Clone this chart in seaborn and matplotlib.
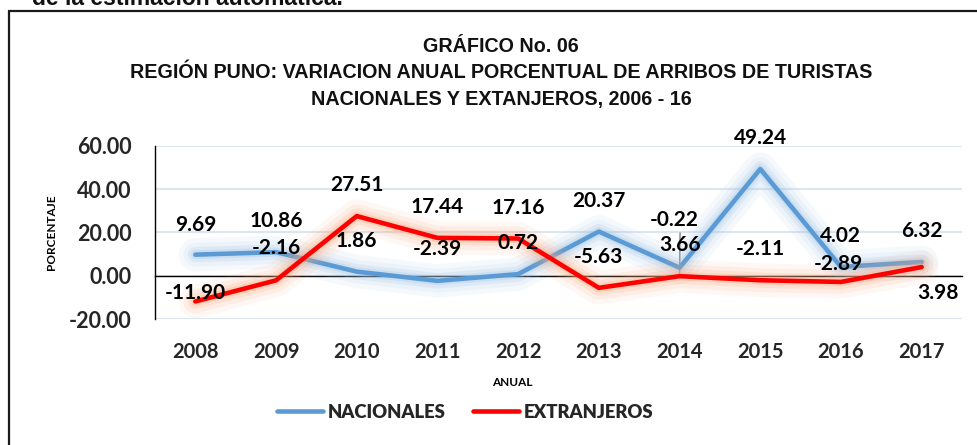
import numpy as np
import pandas as pd
import seaborn as sns
import matplotlib
matplotlib.use("Agg")
import matplotlib.pyplot as plt
from matplotlib import font_manager
from matplotlib.font_manager import FontProperties
from matplotlib.lines import Line2D
import matplotlib.patheffects as pe

# ---------------- data ----------------
years = [2008, 2009, 2010, 2011, 2012, 2013, 2014, 2015, 2016, 2017]
nacionales = [9.69, 10.86, 1.86, -2.39, 0.72, 20.37, 3.66, 49.24, 4.02, 6.32]
extranjeros = [-11.90, -2.16, 27.51, 17.44, 17.16, -5.63, -0.22, -2.11, -2.89, 3.98]
series_names = ["NACIONALES", "EXTRANJEROS"]
yticks = [-20, 0, 20, 40, 60]
title_lines = ["GRÁFICO No. 06",
               "REGIÓN PUNO: VARIACION ANUAL PORCENTUAL DE ARRIBOS DE TURISTAS",
               "NACIONALES Y EXTANJEROS, 2006 - 16"]
top_text = "de la estimación automática."

# label offsets (pixels) relative to each point
nac_off = [(0, -30), (0, -31), (0, -31), (0, -32), (0, -31), (0, -31), (1, -23), (0, -31), (0, -31), (0, -31)]
ext_off = [(0, -8), (0, -32), (0, -31), (0, -31), (0, -31), (0, -31), (-5, -56), (0, -31), (-3, -18), (16, 26)]

df = pd.DataFrame({
    "year": years * 2,
    "value": nacionales + extranjeros,
    "serie": [series_names[0]] * len(years) + [series_names[1]] * len(years),
})

BLUE = "#5B9BD5"
RED = "#FF0000"
palette = {series_names[0]: BLUE, series_names[1]: RED}
glow = {series_names[0]: "#9DC3E6", series_names[1]: "#F8A77C"}

sns.set_theme(style="white")
names = {f.name for f in font_manager.fontManager.ttflist}
narrow = "Liberation Sans Narrow" if "Liberation Sans Narrow" in names else "Liberation Sans"
body = "Lato" if "Lato" in names else "DejaVu Sans"
plt.rcParams["font.family"] = [body, "DejaVu Sans"]

W, H, DPI = 977, 445, 100
fig = plt.figure(figsize=(W / DPI, H / DPI), dpi=DPI)
fig.patch.set_facecolor("white")

def fx(px):
    return px / W

def fy(py):
    return 1 - py / H

ax_l, ax_r, ax_t, ax_b = 155, 962, 145.7, 319
ax = fig.add_axes([fx(ax_l), fy(ax_b), fx(ax_r - ax_l), (ax_b - ax_t) / H])

sns.lineplot(data=df, x="year", y="value", hue="serie", palette=palette,
             hue_order=series_names, ax=ax, linewidth=3.3, legend=True, zorder=5)

for line, name in zip(ax.get_lines()[:2], series_names):
    g = glow[name]
    line.set_path_effects([
        pe.Stroke(linewidth=24, foreground=g, alpha=0.09),
        pe.Stroke(linewidth=17, foreground=g, alpha=0.12),
        pe.Stroke(linewidth=11, foreground=g, alpha=0.18),
        pe.Stroke(linewidth=6.5, foreground=g, alpha=0.25),
        pe.Normal(),
    ])
    line.set_solid_capstyle("round")

for s in ["top", "right"]:
    ax.spines[s].set_visible(False)
ax.spines["left"].set_color("black")
ax.spines["left"].set_linewidth(1.0)
ax.spines["bottom"].set_position(("data", 0))
ax.spines["bottom"].set_color("black")
ax.spines["bottom"].set_linewidth(1.0)

ax.set_xlim(years[0] - 0.5, years[-1] + 0.5)
ax.set_ylim(yticks[0], yticks[-1])
ax.set_yticks(yticks)
ax.set_yticklabels([f"{v:.2f}" for v in yticks], fontsize=15.5, fontweight="bold")
ax.set_xticks(years)
ax.set_xticklabels([str(y) for y in years], fontsize=14.5, fontweight="bold")
ax.set_xticks([y + 0.5 for y in years], minor=True)

ax.tick_params(axis="y", which="major", direction="out", length=5, width=1, color="black", pad=12)
ax.tick_params(axis="x", which="major", length=0, pad=48)
ax.tick_params(axis="x", which="minor", direction="inout", length=9.5, width=1, color="#333333")

ax.yaxis.grid(True, color="#DCE6F2", linewidth=1.5)
ax.xaxis.grid(False)
ax.set_axisbelow(True)
ax.set_xlabel("")
ax.set_ylabel("")

# data labels
k = 0.72
for vals, offs in [(nacionales, nac_off), (extranjeros, ext_off)]:
    for yr, v, (dx, dy) in zip(years, vals, offs):
        ax.annotate(f"{v:.2f}", xy=(yr, v), xytext=(dx * k, -dy * k), textcoords="offset points",
                    ha="center", va="center", fontsize=15, fontweight="bold", color="black", zorder=10)

# leader line for 2014 extranjeros label
i14 = years.index(2014)
ax.annotate("", xy=(years[i14], extranjeros[i14]), xytext=(ext_off[i14][0] * k + 4, -(ext_off[i14][1] + 10) * k),
            textcoords="offset points",
            arrowprops=dict(arrowstyle="-", color="#7F7F7F", lw=1), zorder=4)

# legend
handles, labels = ax.get_legend_handles_labels()
legfont = FontProperties(family=[body, "DejaVu Sans"], weight="heavy", size=13.3)
leg = ax.legend(handles[:2], labels[:2], loc="center", bbox_to_anchor=(fx(465), fy(412)),
                bbox_transform=fig.transFigure, ncol=2, frameon=False,
                prop=legfont, handlelength=2.5, handletextpad=0.25, columnspacing=1.5)
for h in leg.get_lines():
    h.set_linewidth(3.3)
    h.set_solid_capstyle("round")

# axis titles
fig.text(fx(52), fy(232), "PORCENTAJE", rotation=90, ha="center", va="center",
         fontsize=8.5, fontweight="bold", color="black")
fig.text(fx(512), fy(383), "ANUAL", ha="center", va="center",
         fontsize=8.5, fontweight="bold", color="black")

# titles
fig.canvas.draw()
renderer = fig.canvas.get_renderer()
ts = []
for line, yc in zip(title_lines, [46, 73, 100]):
    t = fig.text(fx(501), fy(yc), line, ha="center", va="center", fontsize=14,
                 fontweight="bold", family=[narrow, "DejaVu Sans"], color="#111111")
    ts.append(t)
w = ts[1].get_window_extent(renderer).width
size = 14 * 745 / w
for t in ts:
    t.set_fontsize(size)

tt = fig.text(fx(32), fy(5), top_text, ha="left", va="baseline", fontsize=14,
              fontweight="bold", family=["Liberation Sans", "DejaVu Sans"], color="#111111")
w2 = tt.get_window_extent(renderer).width
tt.set_fontsize(14 * 313 / w2)

# outer frame (top and left edges visible)
fig.add_artist(Line2D([fx(8.5), fx(W + 5)], [fy(11), fy(11)], color="#1a1a1a", lw=1.6, transform=fig.transFigure))
fig.add_artist(Line2D([fx(8.5), fx(8.5)], [fy(11), fy(H + 5)], color="#1a1a1a", lw=1.6, transform=fig.transFigure))

fig.savefig("out.png", dpi=DPI, facecolor="white")
